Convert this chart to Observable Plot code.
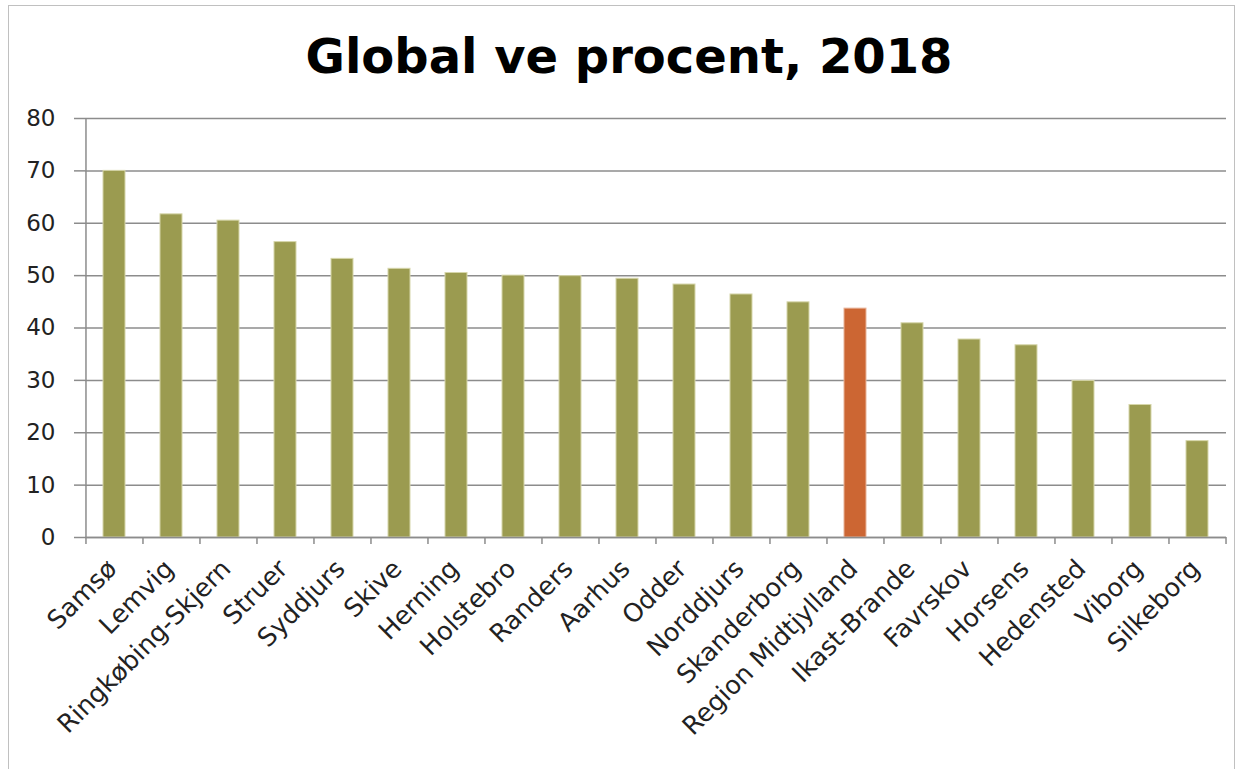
<!DOCTYPE html>
<html>
<head>
<meta charset="utf-8">
<script src="https://cdn.jsdelivr.net/npm/d3@7"></script>
<script src="https://cdn.jsdelivr.net/npm/@observablehq/plot@0.6"></script>
<style>
  html, body { margin: 0; padding: 0; background: #fff; }
  #wrap { position: relative; width: 1238px; height: 769px; overflow: hidden; background: #fff; }
  #frame { position: absolute; left: 8px; top: 5px; width: 1227px; height: 800px; border: 1.5px solid #c0c0c0; box-sizing: border-box; }
  #title { position: absolute; left: 10px; width: 1238px; top: 32px; text-align: center; font-family: "DejaVu Sans", Verdana, sans-serif; font-weight: bold; font-size: 48px; line-height: 48px; color: #000; }
  #chart { position: absolute; left: 0; top: 100px; }
</style>
</head>
<body>
<div id="wrap">
  <div id="frame"></div>
  <div id="title">Global ve procent, 2018</div>
  <div id="chart"></div>
</div>
<script>
const categories = ["Samsø", "Lemvig", "Ringkøbing-Skjern", "Struer", "Syddjurs", "Skive", "Herning", "Holstebro", "Randers", "Aarhus", "Odder", "Norddjurs", "Skanderborg", "Region Midtjylland", "Ikast-Brande", "Favrskov", "Horsens", "Hedensted", "Viborg", "Silkeborg"];
const values = [70.0, 61.7, 60.5, 56.4, 53.2, 51.3, 50.5, 50.0, 49.9, 49.4, 48.3, 46.4, 44.9, 43.7, 40.9, 37.8, 36.7, 29.9, 25.3, 18.4];
const highlight = "Region Midtjylland";
const yTicks = [0, 10, 20, 30, 40, 50, 60, 70, 80];

const data = categories.map((c, i) => ({name: c, value: values[i]}));

const width = 1238, height = 669;
const marginLeft = 85, marginRight = 12;
const step = (width - marginLeft - marginRight) / categories.length;
const pad = 0.614;
const gray = "#8c8c8c";

const chart = Plot.plot({
  width, height,
  marginTop: 18, marginBottom: 232, marginLeft, marginRight,
  style: {fontFamily: "'DejaVu Sans', Verdana, sans-serif", fontSize: "23px", color: "#222", background: "transparent"},
  x: {domain: categories, paddingInner: pad, paddingOuter: pad / 2, label: null},
  y: {domain: [0, 80], label: null},
  marks: [
    Plot.gridY(yTicks, {stroke: gray, strokeOpacity: 1, strokeWidth: 1.5}),
    Plot.barY(data, {x: "name", y: "value", fill: d => d.name === highlight ? "#cc6633" : "#9b9b50", stroke: d => d.name === highlight ? "#e8b49a" : "#d6d6aa", strokeWidth: 1}),
    Plot.ruleY([0], {stroke: gray, strokeWidth: 1.5}),
    Plot.ruleX([categories[0]], {y1: 0, y2: 80, dx: -step / 2, stroke: gray, strokeWidth: 1.5}),
    Plot.axisY(yTicks, {tickSize: 11, tickPadding: 19, stroke: gray, strokeWidth: 1.5, fill: "#222", label: null}),
    Plot.axisX({tickSize: 7, tickFormat: null, dx: -step / 2, stroke: gray, strokeWidth: 1.5}),
    Plot.axisX([categories[categories.length - 1]], {tickSize: 7, tickFormat: null, dx: step / 2, stroke: gray, strokeWidth: 1.5}),
    Plot.axisX({tickSize: 0, tickRotate: -45, tickPadding: 27, dx: -2, fontSize: 25.5, fill: "#222", label: null})
  ]
});
document.getElementById("chart").appendChild(chart);
</script>
</body>
</html>
